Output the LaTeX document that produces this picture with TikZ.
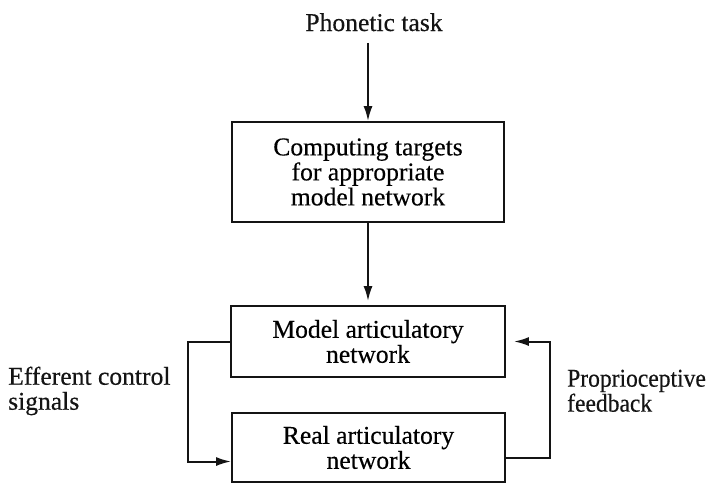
\documentclass[tikz,border=0pt]{standalone}
\usepackage{fontspec}
\setmainfont[FakeBold=0.4]{Liberation Serif}
\usetikzlibrary{arrows.meta, positioning, calc}
\definecolor{inkBlack}{gray}{0.08}

\begin{document}
\begin{tikzpicture}[x=1pt, y=-1pt,
    font=\fontsize{25.6}{25}\selectfont,
    stage/.style={draw=inkBlack, line width=1.8pt, align=center, inner sep=0pt},
    flow/.style={-{Latex[length=15pt, width=9pt]}, line width=2pt, inkBlack},
    note/.style={align=left, anchor=north west, inner sep=0pt, inkBlack}]
    \useasboundingbox (0,0) rectangle (715,483);

    \node[anchor=base, inkBlack] (task) at (374,31) {Phonetic task};
    \node[stage, minimum width=272pt, minimum height=100pt] (targets) at (368,172)
        {Computing targets\\for appropriate\\model network};
    \node[stage, minimum width=274pt, minimum height=71pt] (model) at (368,341.5)
        {Model articulatory\\network};
    \node[stage, minimum width=273pt, minimum height=69pt] (real) at (368.5,447.5)
        {Real articulatory\\network};

    \draw[flow, shorten <=8pt] (task.south -| targets.north) -- (targets.north);
    \draw[flow, shorten >=4pt] (targets.south) -- (model.north);

    % control loop
    \draw[flow] (model.west) -- ++(-42,0) |- ($(real.west)+(0,14)$);
    \draw[flow] ($(real.east)+(0,10)$) -- ++(44,0) |- ($(model.east)+(8,0)$);

    \node[note] (efferent) at (8,366.5) {Efferent control\\signals};
    \node[note, font=\fontsize{25.6}{25}\selectfont\addfontfeature{FakeStretch=0.92}]
        (proprio) at (567,369.5) {Proprioceptive\\feedback};
\end{tikzpicture}
\end{document}
